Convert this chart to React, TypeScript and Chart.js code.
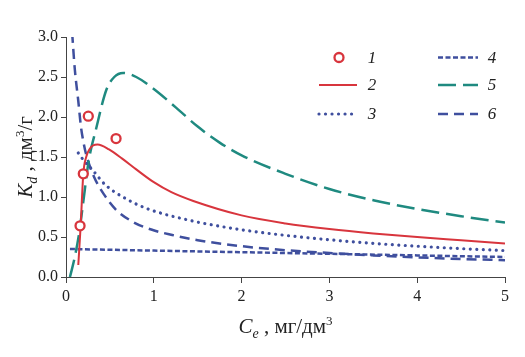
import React, { useEffect, useRef } from "react";
import { Chart, registerables } from "chart.js";

Chart.register(...registerables);

// ---- data ----
const expX = [0.16, 0.197, 0.254, 0.57];
const expY = [0.64, 1.29, 2.01, 1.73];

const c2X = [0.14, 0.167, 0.197, 0.23, 0.27, 0.31, 0.36, 0.49, 0.64, 0.8, 1.0, 1.2, 1.45, 2.0, 2.5, 3.0, 3.5, 4.0, 4.5, 5.0];
const c2Y = [0.15, 0.64, 1.29, 1.5, 1.6, 1.645, 1.655, 1.595, 1.48, 1.345, 1.185, 1.06, 0.95, 0.77, 0.67, 0.6, 0.545, 0.5, 0.46, 0.42];

const c3X = [0.14, 0.2, 0.3, 0.45, 0.68, 0.91, 1.14, 1.36, 1.55, 2.0, 2.5, 3.0, 3.5, 4.0, 4.5, 5.0];
const c3Y = [1.55, 1.46, 1.34, 1.15, 0.98, 0.86, 0.78, 0.72, 0.675, 0.59, 0.52, 0.465, 0.42, 0.385, 0.355, 0.33];

const c4X = [0.045, 1.0, 2.0, 3.0, 4.0, 5.0];
const c4Y = [0.35, 0.33, 0.31, 0.29, 0.27, 0.25];

const c5X = [0.045, 0.1, 0.15, 0.19, 0.26, 0.34, 0.46, 0.55, 0.65, 0.8, 1.0, 1.25, 1.5, 1.75, 2.0, 2.5, 3.0, 3.5, 4.0, 4.5, 5.0];
const c5Y = [0.0, 0.25, 0.55, 0.88, 1.46, 1.84, 2.34, 2.5, 2.55, 2.5, 2.35, 2.12, 1.88, 1.68, 1.52, 1.29, 1.1, 0.96, 0.85, 0.76, 0.68];

const c6X = [0.07, 0.1, 0.14, 0.17, 0.2, 0.23, 0.32, 0.44, 0.57, 0.76, 0.98, 1.21, 1.5, 2.0, 2.5, 3.0, 3.5, 4.0, 4.5, 5.0];
const c6Y = [3.05, 2.6, 2.2, 1.88, 1.68, 1.53, 1.25, 1.02, 0.84, 0.69, 0.59, 0.525, 0.46, 0.385, 0.335, 0.3, 0.27, 0.245, 0.225, 0.21];

const seriesLabels = ["1", "2", "3", "4", "5", "6"];
const xTicks = [0, 1, 2, 3, 4, 5];
const yTicks = [0, 0.5, 1.0, 1.5, 2.0, 2.5, 3.0];

const RED = "#d8353d";
const BLUE = "#3f4f9e";
const TEAL = "#1f8a80";
const SERIF = '"Liberation Serif", "Times New Roman", serif';

const toPts = (xs: number[], ys: number[]) => xs.map((x, i) => ({ x, y: ys[i] }));

type Part = { t: string; size: number; italic?: boolean; dy?: number };

function drawRich(ctx: CanvasRenderingContext2D, parts: Part[], cx: number, y: number) {
  let total = 0;
  const widths = parts.map((p) => {
    ctx.font = `${p.italic ? "italic " : ""}${p.size}px ${SERIF}`;
    const w = ctx.measureText(p.t).width;
    total += w;
    return w;
  });
  let x = cx - total / 2;
  ctx.textAlign = "left";
  ctx.textBaseline = "alphabetic";
  parts.forEach((p, i) => {
    ctx.font = `${p.italic ? "italic " : ""}${p.size}px ${SERIF}`;
    ctx.fillText(p.t, x, y + (p.dy || 0));
    x += widths[i];
  });
}

const xTitle: Part[] = [
  { t: "C", size: 21, italic: true },
  { t: "e", size: 14, italic: true, dy: 5 },
  { t: " , мг/дм", size: 21 },
  { t: "3", size: 13, dy: -8 },
];
const yTitle: Part[] = [
  { t: "K", size: 21, italic: true },
  { t: "d", size: 14, italic: true, dy: 5 },
  { t: " , дм", size: 21 },
  { t: "3", size: 13, dy: -8 },
  { t: "/г", size: 21 },
];

const overlay = {
  id: "overlay",
  afterDraw(chart: any) {
    const ctx: CanvasRenderingContext2D = chart.ctx;
    const area = chart.chartArea;
    ctx.save();
    ctx.fillStyle = "#222";
    // axis titles
    drawRich(ctx, xTitle, (area.left + area.right) / 2, 333);
    ctx.save();
    ctx.translate(31.5, (area.top + area.bottom) / 2);
    ctx.rotate(-Math.PI / 2);
    drawRich(ctx, yTitle, 0, 0);
    ctx.restore();

    // legend
    const ds = chart.data.datasets;
    const rows = [57.5, 85, 114];
    const cols = [
      { x0: 319, x1: 357, tx: 372 },
      { x0: 438, x1: 478, tx: 492 },
    ];
    ds.forEach((d: any, i: number) => {
      const col = cols[Math.floor(i / 3)];
      const y = rows[i % 3];
      if (i === 0) {
        ctx.beginPath();
        ctx.setLineDash([]);
        ctx.lineWidth = d.borderWidth;
        ctx.strokeStyle = d.borderColor;
        ctx.fillStyle = "#fff";
        ctx.arc(339, y, d.pointRadius, 0, Math.PI * 2);
        ctx.fill();
        ctx.stroke();
      } else {
        ctx.beginPath();
        ctx.setLineDash(d.borderDash || []);
        ctx.lineCap = d.borderCapStyle || "butt";
        ctx.lineWidth = d.borderWidth;
        ctx.strokeStyle = d.borderColor;
        ctx.moveTo(col.x0, y);
        ctx.lineTo(col.x1, y);
        ctx.stroke();
      }
      ctx.setLineDash([]);
      ctx.fillStyle = "#222";
      ctx.font = `italic 17px ${SERIF}`;
      ctx.textAlign = "center";
      ctx.textBaseline = "middle";
      ctx.fillText(d.label, col.tx, y + 1);
    });
    ctx.restore();
  },
};

export default function App() {
  const ref = useRef<HTMLCanvasElement | null>(null);
  useEffect(() => {
    if (!ref.current) return;
    const lineBase = {
      showLine: true,
      pointRadius: 0,
      pointHoverRadius: 0,
      fill: false,
      tension: 0.4,
      cubicInterpolationMode: "monotone" as const,
    };
    const chart = new Chart(ref.current, {
      type: "scatter",
      data: {
        datasets: [
          {
            label: seriesLabels[0],
            data: toPts(expX, expY),
            showLine: false,
            pointRadius: 4.5,
            pointBorderWidth: 2.3,
            borderWidth: 2.3,
            borderColor: RED,
            backgroundColor: "#fff",
            pointStyle: "circle",
            order: 0,
          },
          { ...lineBase, label: seriesLabels[1], data: toPts(c2X, c2Y), borderColor: RED, borderWidth: 2, order: 1 },
          {
            ...lineBase,
            label: seriesLabels[2],
            data: toPts(c3X, c3Y),
            borderColor: BLUE,
            borderWidth: 3.2,
            borderDash: [0.01, 6.5],
            borderCapStyle: "round",
            order: 2,
          },
          { ...lineBase, label: seriesLabels[3], data: toPts(c4X, c4Y), borderColor: BLUE, borderWidth: 2.5, borderDash: [5, 2.5], order: 3 },
          { ...lineBase, label: seriesLabels[4], data: toPts(c5X, c5Y), borderColor: TEAL, borderWidth: 2.5, borderDash: [18, 7], order: 4 },
          { ...lineBase, label: seriesLabels[5], data: toPts(c6X, c6Y), borderColor: BLUE, borderWidth: 2.5, borderDash: [10, 6], order: 5 },
        ] as any,
      },
      options: {
        responsive: false,
        animation: false,
        devicePixelRatio: 1,
        layout: { padding: { top: 37, right: 20, left: 0, bottom: 0 } },
        plugins: { legend: { display: false }, tooltip: { enabled: false }, title: { display: false } },
        scales: {
          x: {
            type: "linear",
            min: 0,
            max: 5,
            afterFit: (s: any) => {
              s.height = 80;
            },
            afterBuildTicks: (s: any) => {
              s.ticks = xTicks.map((v) => ({ value: v }));
            },
            ticks: {
              color: "#222",
              padding: 4,
              font: { family: SERIF, size: 16 },
              callback: (v: any) => String(v),
            },
            grid: { drawOnChartArea: false, drawTicks: true, tickLength: 6, color: "#444", lineWidth: 1 },
            border: { display: true, color: "#444", width: 1 },
          },
          y: {
            type: "linear",
            min: 0,
            max: 3,
            afterFit: (s: any) => {
              s.width = 66;
            },
            afterBuildTicks: (s: any) => {
              s.ticks = yTicks.map((v) => ({ value: v }));
            },
            ticks: {
              color: "#222",
              padding: 3,
              font: { family: SERIF, size: 16 },
              callback: (v: any) => Number(v).toFixed(1),
            },
            grid: { drawOnChartArea: false, drawTicks: true, tickLength: 5, color: "#444", lineWidth: 1 },
            border: { display: true, color: "#444", width: 1 },
          },
        },
      },
      plugins: [overlay],
    });
    return () => chart.destroy();
  }, []);
  return (
    <div style={{ position: "absolute", left: 0, top: 0, width: 525, height: 357, background: "#fff" }}>
      <canvas ref={ref} width={525} height={357} style={{ display: "block", width: 525, height: 357 }} />
    </div>
  );
}
